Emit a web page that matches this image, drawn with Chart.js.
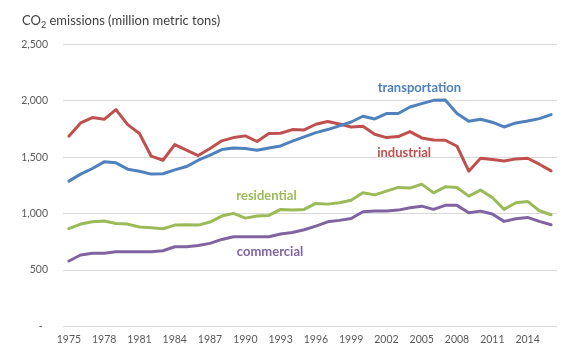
<!DOCTYPE html>
<html>
<head>
<meta charset="utf-8">
<script src="https://cdn.jsdelivr.net/npm/chart.js@4/dist/chart.umd.min.js"></script>
<style>
  html, body { margin: 0; padding: 0; background: #ffffff; }
  #wrap { width: 575px; height: 354px; position: relative; }
</style>
</head>
<body>
<div id="wrap"><canvas id="c" width="575" height="354"></canvas></div>
<script>
const years = ['1975','1976','1977','1978','1979','1980','1981','1982','1983','1984','1985','1986','1987','1988','1989','1990','1991','1992','1993','1994','1995','1996','1997','1998','1999','2000','2001','2002','2003','2004','2005','2006','2007','2008','2009','2010','2011','2012','2013','2014','2015','2016'];

const transportation = [1288,1350,1400,1459,1450,1394,1376,1350,1353,1388,1417,1473,1518,1568,1582,1577,1562,1582,1600,1642,1680,1718,1745,1778,1812,1863,1839,1887,1887,1945,1975,2004,2007,1887,1819,1836,1810,1768,1804,1821,1842,1878];
const industrial = [1686,1804,1851,1836,1922,1789,1710,1509,1473,1612,1562,1515,1577,1645,1674,1689,1639,1710,1712,1745,1742,1792,1816,1795,1768,1774,1704,1674,1683,1727,1671,1653,1650,1597,1376,1490,1480,1467,1485,1491,1438,1379];
const residential = [866,907,928,934,913,907,881,875,866,898,901,898,925,978,1002,960,978,984,1037,1031,1037,1090,1084,1096,1119,1184,1166,1199,1232,1226,1261,1184,1237,1232,1155,1208,1143,1037,1096,1108,1025,990];
const commercial = [580,633,648,648,662,662,662,662,671,706,706,718,736,771,795,795,795,795,819,833,857,889,927,940,957,1016,1022,1022,1031,1051,1066,1037,1073,1073,1007,1022,996,931,954,966,931,901];

const seriesNames = ['transportation','industrial','residential','commercial'];
const seriesColors = ['#4F81BD','#C0504D','#9BBB59','#8064A2'];
const yTickValues = [0,500,1000,1500,2000,2500];
const yTickLabels = ['-  ','500','1,000','1,500','2,000','2,500'];
const titleMain = 'CO';
const titleSub = '2';
const titleRest = ' emissions (million metric tons)';

// series label anchors: [category index, value]
const labelAnchors = [[29.8, 2115], [28.5, 1538], [16.8, 1155], [17.1, 662]];

const seriesData = [transportation, industrial, residential, commercial];

const labelPlugin = {
  id: 'seriesLabels',
  afterDatasetsDraw(chart) {
    const ctx = chart.ctx;
    const xs = chart.scales.x, ys = chart.scales.y;
    ctx.save();
    ctx.font = 'bold 13px Lato';
    ctx.textAlign = 'center';
    ctx.textBaseline = 'middle';
    seriesNames.forEach((n, i) => {
      ctx.fillStyle = seriesColors[i];
      ctx.fillText(n, xs.getPixelForValue(labelAnchors[i][0]), ys.getPixelForValue(labelAnchors[i][1]));
    });
    ctx.restore();
  }
};

const titlePlugin = {
  id: 'subTitle',
  afterDraw(chart) {
    const ctx = chart.ctx;
    ctx.save();
    ctx.fillStyle = '#404040';
    ctx.textBaseline = 'alphabetic';
    ctx.textAlign = 'left';
    let x = 22, y = 25;
    ctx.font = '13px Lato';
    ctx.fillText(titleMain, x, y);
    x += ctx.measureText(titleMain).width;
    ctx.font = '9px Lato';
    ctx.fillText(titleSub, x, y + 3);
    x += ctx.measureText(titleSub).width;
    ctx.font = '13px Lato';
    ctx.fillText(titleRest, x, y);
    ctx.restore();
  }
};

new Chart(document.getElementById('c'), {
  type: 'line',
  data: {
    labels: years,
    datasets: seriesNames.map((n, i) => ({
      label: n,
      data: seriesData[i],
      borderColor: seriesColors[i],
      backgroundColor: seriesColors[i],
      borderWidth: 3,
      pointRadius: 0,
      tension: 0,
      fill: false,
      borderJoinStyle: 'round',
      borderCapStyle: 'round'
    }))
  },
  options: {
    responsive: false,
    animation: false,
    devicePixelRatio: 1,
    layout: { padding: { top: 44.4, right: 18, bottom: 0, left: 0 } },
    plugins: { legend: { display: false }, tooltip: { enabled: false }, title: { display: false } },
    scales: {
      x: {
        type: 'category',
        offset: true,
        grid: { display: false, drawTicks: false },
        border: { display: false },
        ticks: {
          autoSkip: false,
          maxRotation: 0,
          minRotation: 0,
          padding: 7,
          color: '#595959',
          font: { family: 'Lato', size: 10.5 },
          callback: function(v, i) { return i % 3 === 0 ? years[i] : ''; }
        },
        afterFit(scale) { scale.height = 27.6; }
      },
      y: {
        min: 0,
        max: 2500,
        afterBuildTicks(scale) { scale.ticks = yTickValues.map(v => ({ value: v })); },
        grid: { color: '#D9D9D9', lineWidth: 1, drawTicks: false },
        border: { display: false },
        ticks: {
          padding: 15,
          color: '#595959',
          font: { family: 'Lato', size: 10.5 },
          callback: function(v) { const k = yTickValues.indexOf(v); return k >= 0 ? yTickLabels[k] : ''; }
        },
        afterFit(scale) { scale.width = 63; }
      }
    }
  },
  plugins: [labelPlugin, titlePlugin]
});
</script>
</body>
</html>
